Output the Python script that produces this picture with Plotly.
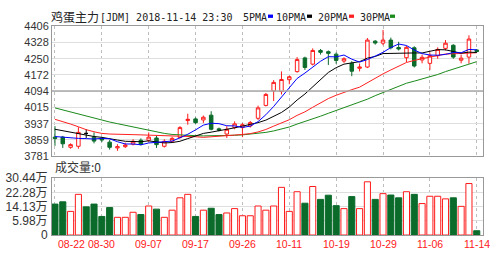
import plotly.graph_objects as go

# ---------------- data ----------------
dates = ["08-22","08-23","08-24","08-27","08-28","08-29","08-30","08-31","09-03","09-04",
         "09-05","09-06","09-07","09-10","09-11","09-12","09-13","09-14","09-17","09-18",
         "09-19","09-20","09-21","09-25","09-26","09-27","09-28","10-08","10-09","10-10",
         "10-11","10-12","10-15","10-16","10-17","10-18","10-19","10-22","10-23","10-24",
         "10-25","10-26","10-29","10-30","10-31","11-01","11-02","11-05","11-06","11-07",
         "11-08","11-09","11-12","11-13","11-14"]

opens = [3872, 3872, 3823, 3828, 3890, 3872, 3866, 3848, 3820, 3826,
         3838, 3857, 3857, 3868, 3828, 3852, 3870, 3952, 3960, 3955,
         3978, 3912, 3887, 3918, 3918, 3926, 3963, 4025, 4095, 4092,
         4149, 4188, 4254, 4224, 4290, 4284, 4272, 4239, 4228, 4204,
         4210, 4335, 4325, 4340, 4304, 4255, 4303, 4244, 4228, 4265,
         4300, 4315, 4243, 4258, 4292]
closes = [3866, 3840, 3836, 3895, 3890, 3853, 3858, 3823, 3826, 3834,
          3852, 3838, 3872, 3836, 3852, 3866, 3918, 3958, 3942, 3968,
          3910, 3906, 3910, 3936, 3932, 3942, 4013, 4078, 4136, 4150,
          4163, 4246, 4208, 4290, 4281, 4276, 4242, 4250, 4190, 4210,
          4340, 4326, 4340, 4303, 4297, 4305, 4215, 4257, 4265, 4295,
          4325, 4258, 4253, 4345, 4285]
highs = [3925, 3878, 3842, 3920, 3910, 3895, 3873, 3858, 3838, 3845,
         3862, 3866, 3895, 3880, 3862, 3874, 3925, 3985, 3967, 3976,
         3997, 3918, 3925, 3948, 3940, 3950, 4024, 4085, 4147, 4189,
         4168, 4258, 4260, 4300, 4297, 4290, 4280, 4257, 4238, 4227,
         4350, 4340, 4389, 4352, 4332, 4312, 4310, 4270, 4280, 4305,
         4340, 4320, 4270, 4363, 4296]
lows = [3830, 3820, 3816, 3816, 3868, 3842, 3848, 3812, 3806, 3820,
        3832, 3832, 3850, 3820, 3822, 3846, 3865, 3932, 3936, 3940,
        3905, 3900, 3868, 3910, 3872, 3918, 3955, 4020, 4046, 4078,
        4127, 4183, 4196, 4218, 4270, 4220, 4226, 4230, 4166, 4189,
        4205, 4318, 4315, 4295, 4290, 4234, 4208, 4228, 4196, 4250,
        4290, 4250, 4228, 4226, 4280]

ma5 = [3875, 3872, 3866, 3866, 3865, 3863, 3866, 3864, 3850, 3839,
       3839, 3835, 3844, 3846, 3850, 3853, 3869, 3886, 3907, 3930,
       3939, 3937, 3927, 3926, 3919, 3925, 3947, 3980, 4020, 4064,
       4108, 4155, 4181, 4211, 4238, 4260, 4259, 4268, 4248, 4234,
       4246, 4263, 4281, 4304, 4321, 4314, 4292, 4275, 4268, 4267,
       4271, 4280, 4279, 4295, 4293]
ma10 = [3910, 3903, 3897, 3890, 3880, 3875, 3871, 3866, 3858, 3852,
        3851, 3850, 3854, 3848, 3844, 3846, 3852, 3865, 3877, 3890,
        3896, 3903, 3907, 3917, 3925, 3932, 3942, 3954, 3973, 3991,
        4017, 4051, 4080, 4116, 4151, 4184, 4207, 4224, 4230, 4236,
        4253, 4261, 4275, 4276, 4277, 4280, 4278, 4278, 4286, 4294,
        4293, 4286, 4277, 4282, 4280]
ma20 = [3958, 3948, 3935, 3922, 3908, 3898, 3890, 3887, 3885, 3884,
        3884, 3883, 3882, 3880, 3879, 3878, 3877, 3876, 3874, 3871,
        3873, 3877, 3880, 3882, 3885, 3889, 3897, 3909, 3925, 3941,
        3956, 3977, 3994, 4016, 4038, 4058, 4074, 4089, 4101, 4113,
        4135, 4156, 4177, 4196, 4214, 4232, 4242, 4251, 4258, 4265,
        4273, 4274, 4276, 4279, 4279]
ma30 = [4013, 4003, 3993, 3983, 3973, 3963, 3953, 3945, 3937, 3929,
        3921, 3913, 3905, 3897, 3890, 3885, 3882, 3880, 3879, 3878,
        3878, 3879, 3880, 3881, 3883, 3886, 3890, 3895, 3902, 3911,
        3921, 3935, 3947, 3960, 3973, 3987, 4000, 4014, 4027, 4039,
        4055, 4072, 4087, 4103, 4118, 4132, 4142, 4152, 4163, 4174,
        4188, 4199, 4211, 4224, 4236]

volume = [15.6, 16.9, 11.4, 21.2, 14.0, 15.6, 8.5, 13.6, 8.0, 8.0,
          10.9, 9.6, 14.5, 12.7, 8.0, 12.1, 19.2, 21.2, 8.5, 12.1,
          13.2, 9.6, 10.5, 13.0, 8.9, 8.9, 14.5, 12.1, 14.5, 25.2,
          11.4, 22.7, 16.1, 25.7, 18.3, 20.7, 14.7, 13.0, 19.9, 13.0,
          28.4, 18.3, 21.6, 20.8, 19.2, 22.7, 21.2, 15.9, 20.1, 20.1,
          18.6, 19.2, 14.3, 27.4, 0.3]

price_ticks = [3781, 3859, 3937, 4015, 4094, 4172, 4250, 4328, 4406]
vol_ticks = [5.98, 14.13, 22.28, 30.44]
vol_tick_text = ["5.98万", "14.13万", "22.28万", "30.44万"]
vol_floor = -2.17          # axis bottom, labelled "0"
label_step = 6

# ---------------- styling ----------------
RED = "#ff1a1a"
GREEN = "#0b6b2b"
W, H = 500, 260
XDOM = [52 / W, 483 / W]
P_DOM = [(H - 157.5) / H, (H - 20.5) / H]
V_DOM = [(H - 241) / H, (H - 181) / H]
XR = [-0.38, 54.8]

idx = list(range(len(dates)))
normal = [i for i in idx if opens[i] != closes[i]]
doji = [i for i in idx if opens[i] == closes[i]]
tick_idx = idx[::label_step]

fig = go.Figure()

fig.add_trace(go.Candlestick(
    x=normal,
    open=[opens[i] for i in normal], high=[highs[i] for i in normal],
    low=[lows[i] for i in normal], close=[closes[i] for i in normal],
    increasing=dict(line=dict(color=RED, width=1), fillcolor="white"),
    decreasing=dict(line=dict(color=GREEN, width=1), fillcolor=GREEN),
    whiskerwidth=0, xaxis="x", yaxis="y", showlegend=False, hoverinfo="skip"))
fig.add_trace(go.Candlestick(
    x=doji,
    open=[opens[i] for i in doji], high=[highs[i] for i in doji],
    low=[lows[i] for i in doji], close=[closes[i] for i in doji],
    increasing=dict(line=dict(color="#000000", width=1), fillcolor="#000000"),
    decreasing=dict(line=dict(color="#000000", width=1), fillcolor="#000000"),
    whiskerwidth=0, xaxis="x", yaxis="y", showlegend=False, hoverinfo="skip"))

for vals, col in [(ma30, "#1a8a1a"), (ma20, "#ff2020"), (ma10, "#000000"), (ma5, "#0000ff")]:
    fig.add_trace(go.Scatter(x=idx, y=vals, mode="lines", line=dict(color=col, width=1),
                             xaxis="x", yaxis="y", showlegend=False, hoverinfo="skip"))

up = [closes[i] > opens[i] for i in idx]
fig.add_trace(go.Bar(
    x=idx, y=[v - vol_floor for v in volume], base=vol_floor,
    marker=dict(color=["white" if u else GREEN for u in up],
                line=dict(color=[RED if u else GREEN for u in up], width=1)),
    xaxis="x2", yaxis="y2", showlegend=False, hoverinfo="skip"))

tickfont = dict(family="Liberation Sans, DejaVu Sans, Noto Sans CJK SC", size=11, color="#333333")
voltickfont = dict(family="Liberation Sans, DejaVu Sans, Noto Sans CJK SC", size=12, color="#333333")
common_x = dict(domain=XDOM, range=XR, tickmode="array", tickvals=tick_idx,
                showticklabels=False, ticks="", showgrid=True, gridcolor="#bdbdbd",
                griddash="3px,3px", gridwidth=1, zeroline=False,
                showline=True, mirror=True, linecolor="#999999", linewidth=1,
                fixedrange=True)

fig.update_layout(
    width=W, height=H, margin=dict(l=0, r=0, t=0, b=0),
    paper_bgcolor="white", plot_bgcolor="white",
    boxgap=0.36, bargap=0.22,
    xaxis=dict(anchor="y", rangeslider=dict(visible=False), **common_x),
    xaxis2=dict(anchor="y2", **common_x),
    yaxis=dict(domain=P_DOM, range=[price_ticks[0], price_ticks[-1]], tickmode="array",
               tickvals=price_ticks, ticktext=[str(t) for t in price_ticks],
               tickfont=tickfont, ticks="", showgrid=True, gridcolor="#dedede", gridwidth=1,
               zeroline=False, showline=True, mirror=True, linecolor="#999999", linewidth=1),
    yaxis2=dict(domain=V_DOM, range=[vol_floor, vol_ticks[-1]], tickmode="array",
                tickvals=[vol_floor] + vol_ticks, ticktext=["0"] + vol_tick_text,
                tickfont=voltickfont, ticks="", ticklabelstandoff=1,
                showgrid=True, gridcolor="#dedede", gridwidth=1,
                zeroline=False, showline=True, mirror=True, linecolor="#999999", linewidth=1),
    showlegend=False,
)

# darker middle line of the price panel
fig.add_shape(type="line", xref="x domain", yref="y", x0=0, x1=1,
              y0=price_ticks[4], y1=price_ticks[4], line=dict(color="#a8a8a8", width=1.5))

mono = "DejaVu Sans Mono, Liberation Mono, monospace"
cjk = "Noto Sans CJK SC"
ann = []
def txt(x_px, y_px, text, family, size, color="#222222", anchor="left"):
    ann.append(dict(x=x_px / W, y=(H - y_px) / H, xref="paper", yref="paper",
                    text=text, showarrow=False, xanchor=anchor, yanchor="middle",
                    font=dict(family=family, size=size, color=color), borderpad=0))

txt(50, 10.5, "鸡蛋主力", cjk, 12)
txt(99, 11, "[JDM] 2018-11-14 23:30", mono, 10)
legend_items = [("5PMA", 242, 268, "#0000ff"), ("10PMA", 275, 307, "#000000"),
                ("20PMA", 317, 349, "#ff2020"), ("30PMA", 359, 390, "#1a8a1a")]
for name, tx, sx, col in legend_items:
    txt(tx, 11, name, mono, 10)
    fig.add_shape(type="rect", xref="paper", yref="paper",
                  x0=sx / W, x1=(sx + 5) / W, y0=(H - 11.5) / H, y1=(H - 8) / H,
                  line=dict(width=0), fillcolor=col)
txt(54, 169, "成交量:0", cjk, 12, "#333333")

datefont = dict(family="Liberation Sans, DejaVu Sans", size=10.5, color="#ff2020")
for k, i in enumerate(tick_idx):
    ann.append(dict(x=i, y=(H - 250) / H, xref="x2", yref="paper", text=dates[i],
                    showarrow=False, xanchor="left" if k == 0 else "center",
                    xshift=1 if k == 0 else 0, yanchor="middle", font=datefont))

fig.update_layout(annotations=ann)
fig.write_html("out.html")
